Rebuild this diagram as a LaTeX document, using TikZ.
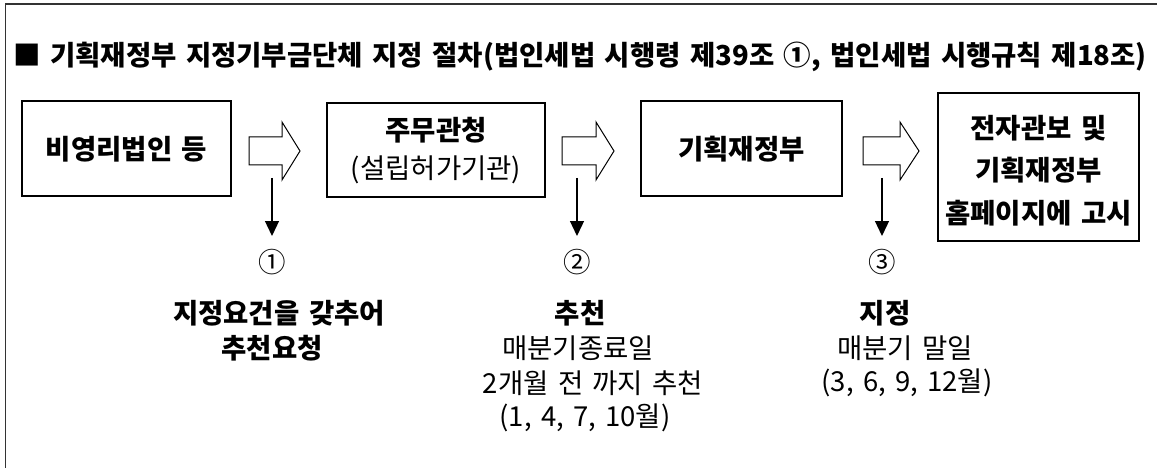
\documentclass[tikz,border=0pt]{standalone}
\usepackage{fontspec}
\setmainfont{Noto Sans CJK KR}[WordSpace=1.5]
\usetikzlibrary{arrows.meta}
\begin{document}
\begin{tikzpicture}[x=1pt,y=-1pt,
  box/.style={draw=black,line width=1.3pt,inner sep=0pt},
  bt/.style={font=\fontsize{27.5}{32}\selectfont\bfseries,inner sep=0pt},
  tt/.style={font=\fontsize{27.5}{32}\selectfont\bfseries,inner sep=0pt},
  rt/.style={font=\fontsize{27.5}{32}\selectfont,inner sep=0pt},
  hollow/.style={draw=black,line width=1pt,fill=white,line join=miter},
  down/.style={line width=1.3pt,-{Triangle[length=15pt,width=14pt]}}]
\useasboundingbox (0,0) rectangle (1157,468);
\draw[line width=1.6pt,black!80] (5.5,470) -- (5.5,4) -- (1160,4);
% title
\node[tt,anchor=west] (title) at (13,57) {■ 기획재정부 지정기부금단체 지정 절차(법인세법 시행령 제39조 ①, 법인세법 시행규칙 제18조)};
% boxes
\node[box,minimum width=209pt,minimum height=95pt] (b1) at (126.5,148.5) {};
\node[box,minimum width=218pt,minimum height=94pt] (b2) at (436,150) {};
\node[box,minimum width=201pt,minimum height=95pt] (b3) at (741.5,148.5) {};
\node[box,minimum width=201pt,minimum height=148pt] (b4) at (1038.5,167) {};
\node[bt] (t1) at (126.5,149) {비영리법인 등};
\node[bt] (t2a) at (436,130) {주무관청};
\node[rt] (t2b) at (436,170) {(설립허가기관)};
\node[bt] (t3) at (741.5,149) {기획재정부};
\node[bt] (t4a) at (1038.5,128) {전자관보 및};
\node[bt] (t4b) at (1038.5,170) {기획재정부};
\node[bt] (t4c) at (1038.5,213) {홈페이지에 고시};
% hollow arrows
\draw[hollow] (249,137) -- (282,137) -- (282,122) -- (300,151) -- (282,180) -- (282,165) -- (249,165) -- cycle;
\draw[hollow] (562,137) -- (596,137) -- (596,122) -- (614,151) -- (596,180) -- (596,165) -- (562,165) -- cycle;
\draw[hollow] (863,137) -- (900,137) -- (900,122) -- (919,151) -- (900,180) -- (900,165) -- (863,165) -- cycle;
% down arrows
\coordinate (d1s) at (272,178); \coordinate (d1e) at (272,236);
\coordinate (d2s) at (577,178); \coordinate (d2e) at (577,236);
\coordinate (d3s) at (882,178); \coordinate (d3e) at (882,236);
\draw[down] (d1s) -- (d1e);
\draw[down] (d2s) -- (d2e);
\draw[down] (d3s) -- (d3e);
\node[rt] (c1) at (272,262) {①};
\node[rt] (c2) at (577,262) {②};
\node[rt] (c3) at (882,262) {③};
% labels
\node[bt] (l1a) at (279,313) {지정요건을 갖추어};
\node[bt] (l1b) at (272,348) {추천요청};
\node[bt] (l2a) at (580,313) {추천};
\node[rt] (l2b) at (578,348) {매분기종료일};
\node[rt] (l2c) at (593,383) {2개월 전 까지 추천};
\node[rt] (l2d) at (585,418) {(1, 4, 7, 10월)};
\node[bt] (l3a) at (885,313) {지정};
\node[rt] (l3b) at (905,348) {매분기 말일};
\node[rt] (l3c) at (907,383) {(3, 6, 9, 12월)};
\end{tikzpicture}
\end{document}
